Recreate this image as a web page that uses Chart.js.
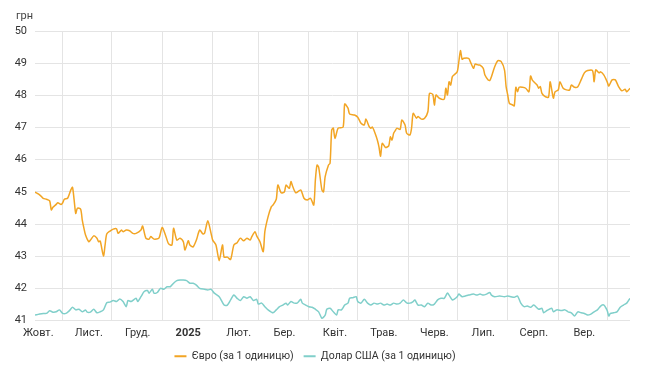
<!DOCTYPE html>
<html>
<head>
<meta charset="utf-8">
<script src="https://cdn.jsdelivr.net/npm/chart.js@4.4.1/dist/chart.umd.min.js"></script>
<style>
html,body{margin:0;padding:0;background:#fff;}
#wrap{width:650px;height:383px;}
</style>
</head>
<body>
<div id="wrap"><canvas id="c" width="650" height="383"></canvas></div>
<script>
// Start of the time range (day 0)
const startDate = '2024-10-15';
// Months whose first day gets a vertical gridline
const gridMonths = ['2024-11','2024-12','2025-01','2025-02','2025-03','2025-04','2025-05','2025-06','2025-07','2025-08','2025-09','2025-10'];
// Months labelled on the x axis (label placed mid-month)
const labelMonths = ['2024-10','2024-11','2024-12','2025-01','2025-02','2025-03','2025-04','2025-05','2025-06','2025-07','2025-08','2025-09'];
const monthLabels = ['Жовт.','Лист.','Груд.','2025','Лют.','Бер.','Квіт.','Трав.','Черв.','Лип.','Серп.','Вер.'];
const yMin = 41, yMax = 50;
const unitLabel = 'грн';
const seriesNames = ['Євро (за 1 одиницю)', 'Долар США (за 1 одиницю)'];

// [day since startDate, UAH]
const euroSeries = [
[0,44.99],[3,44.90],[5,44.80],[7,44.77],[9,44.72],[10,44.44],[11,44.52],[13,44.61],[14,44.66],[16,44.61],
[17,44.66],[18,44.77],[20,44.80],[22,45.06],[23,45.14],[24,44.75],[25,44.33],[26,44.49],[28,44.46],[29,44.12],
[30,43.87],[31,43.66],[33,43.45],[34,43.50],[36,43.63],[38,43.56],[39,43.45],[40,43.47],[42,43.01],[43,43.35],
[44,43.69],[46,43.78],[48,43.84],[50,43.85],[51,43.71],[53,43.81],[54,43.76],[56,43.81],[58,43.79],[60,43.71],
[62,43.71],[65,43.81],[66,43.94],[68,43.56],[70,43.53],[71,43.61],[73,43.53],[76,43.56],[78,43.89],[80,43.66],
[82,43.38],[84,43.35],[85,43.87],[87,43.50],[89,43.56],[91,43.45],[92,43.19],[94,43.48],[95,43.35],[97,43.29],
[99,43.50],[101,43.81],[103,43.69],[104,43.71],[106,44.10],[108,43.71],[109,43.50],[111,43.35],[113,42.86],[115,43.35],
[116,42.97],[118,42.97],[120,42.90],[122,43.35],[124,43.42],[126,43.56],[128,43.48],[130,43.56],[132,43.50],[133,43.61],
[135,43.76],[136,43.63],[138,43.45],[140,43.14],[141,43.76],[143,44.23],[145,44.54],[146,44.59],[148,44.77],[149,45.21],
[151,44.97],[153,45.00],[154,45.21],[156,45.11],[157,45.32],[158,45.18],[160,44.97],[163,45.06],[165,44.80],[167,44.75],
[169,44.80],[171,44.59],[172,45.37],[173,45.83],[174,45.77],[176,45.06],[177,45.00],[178,45.47],[180,45.83],[181,45.89],
[182,46.92],[183,46.98],[184,46.66],[186,46.98],[189,47.01],[190,47.73],[192,47.60],[193,47.42],[196,47.39],[198,47.32],
[200,47.13],[202,47.08],[203,47.26],[205,47.03],[206,46.98],[207,47.01],[209,46.77],[210,46.61],[211,46.40],[212,46.11],
[213,46.51],[215,46.38],[217,46.43],[218,46.71],[219,46.61],[220,46.82],[221,46.90],[222,46.98],[224,46.94],[225,47.23],
[227,47.08],[228,46.82],[230,46.77],[231,46.98],[232,47.44],[234,47.29],[235,47.34],[237,47.26],[239,47.29],[241,47.49],
[242,48.06],[244,48.03],[245,47.70],[246,48.01],[248,47.91],[251,47.88],[252,48.22],[253,48.01],[254,48.42],[255,48.32],
[256,48.58],[257,48.63],[259,48.73],[260,49.05],[261,49.39],[262,49.12],[263,49.15],[266,49.15],[267,49.05],[269,48.84],
[270,48.97],[272,48.94],[273,48.94],[275,48.84],[276,48.63],[278,48.48],[279,48.46],[280,48.58],[282,48.89],[284,49.08],
[286,49.05],[288,48.79],[289,48.27],[290,48.01],[291,47.75],[293,47.70],[294,47.67],[295,48.25],[296,48.11],[297,48.25],
[299,48.25],[301,48.22],[303,48.11],[304,48.60],[305,48.48],[306,48.42],[308,48.32],[309,48.22],[310,48.27],[311,48.06],
[313,47.96],[315,47.94],[316,48.42],[317,48.17],[318,47.91],[319,48.11],[321,48.17],[322,48.42],[324,48.22],[326,48.17],
[328,48.17],[329,48.32],[331,48.25],[333,48.27],[335,48.48],[337,48.70],[339,48.77],[342,48.77],[343,48.42],[344,48.79],
[346,48.70],[347,48.73],[349,48.63],[351,48.42],[352,48.29],[354,48.48],[356,48.48],[358,48.27],[360,48.14],[362,48.19],
[363,48.11],[365,48.22]
];

const usdSeries = [
[0,41.17],[2,41.19],[5,41.22],[7,41.22],[9,41.30],[11,41.26],[13,41.27],[15,41.33],[17,41.22],[19,41.22],
[21,41.30],[23,41.41],[25,41.33],[27,41.35],[29,41.27],[31,41.33],[32,41.26],[34,41.26],[36,41.35],[38,41.24],
[40,41.27],[42,41.33],[44,41.55],[46,41.57],[48,41.62],[50,41.59],[52,41.67],[54,41.59],[56,41.43],[57,41.62],
[59,41.59],[62,41.69],[63,41.59],[65,41.74],[67,41.90],[69,41.93],[70,41.85],[72,41.97],[73,41.85],[75,41.87],
[77,42.00],[79,41.97],[81,42.05],[83,42.05],[85,42.16],[87,42.24],[89,42.26],[91,42.26],[93,42.24],[95,42.16],
[97,42.16],[99,42.10],[101,42.00],[104,41.97],[106,41.95],[108,41.97],[110,41.85],[113,41.74],[116,41.48],[118,41.48],
[120,41.64],[122,41.79],[124,41.69],[126,41.62],[128,41.74],[130,41.69],[132,41.74],[134,41.62],[136,41.66],[137,41.51],
[139,41.54],[141,41.43],[143,41.33],[146,41.24],[148,41.33],[150,41.43],[152,41.48],[154,41.54],[155,41.48],[157,41.59],
[159,41.54],[161,41.55],[163,41.66],[164,41.54],[166,41.48],[168,41.43],[170,41.41],[172,41.35],[174,41.27],[176,41.07],
[178,41.17],[179,41.35],[181,41.38],[183,41.27],[185,41.17],[186,41.33],[188,41.33],[190,41.48],[192,41.54],[193,41.69],
[195,41.71],[197,41.74],[198,41.59],[200,41.54],[202,41.66],[204,41.54],[206,41.48],[208,41.54],[210,41.51],[212,41.54],
[214,41.48],[216,41.51],[218,41.48],[220,41.54],[222,41.51],[224,41.54],[226,41.64],[228,41.55],[230,41.54],[232,41.59],
[233,41.64],[235,41.48],[237,41.48],[239,41.43],[241,41.54],[243,41.48],[245,41.51],[247,41.64],[249,41.69],[251,41.69],
[253,41.85],[254,41.79],[256,41.64],[257,41.66],[259,41.74],[260,41.82],[262,41.74],[264,41.76],[266,41.79],[269,41.82],
[271,41.79],[273,41.82],[275,41.79],[277,41.82],[279,41.87],[280,41.79],[282,41.74],[285,41.76],[288,41.74],[290,41.76],
[292,41.74],[294,41.72],[296,41.76],[298,41.54],[300,41.43],[302,41.45],[304,41.41],[306,41.48],[309,41.35],[311,41.38],
[312,41.24],[314,41.31],[317,41.38],[318,41.27],[320,41.33],[323,41.31],[325,41.33],[327,41.27],[329,41.24],[331,41.14],
[333,41.27],[335,41.24],[337,41.22],[339,41.17],[341,41.20],[343,41.27],[345,41.33],[347,41.45],[349,41.48],[351,41.31],
[352,41.14],[353,41.22],[355,41.24],[357,41.27],[359,41.41],[361,41.48],[363,41.54],[365,41.69]
];

const DAY = 86400000;
function parseYMD(s){ const p = s.split('-').map(Number); return Date.UTC(p[0], p[1]-1, p[2] || 1); }
const t0 = parseYMD(startDate);
const dayOf = (s, d) => (parseYMD(s + '-' + String(d).padStart(2,'0')) - t0) / DAY;
const gridTicks = gridMonths.map(m => dayOf(m, 1));
const labelTicks = labelMonths.map(m => dayOf(m, 17));
const xMin = 0;
const xMax = euroSeries[euroSeries.length - 1][0];

const toPts = arr => arr.map(p => ({x: p[0], y: p[1]}));

const unitPlugin = {
  id: 'unitLabel',
  afterDraw(chart) {
    const ctx = chart.ctx;
    ctx.save();
    ctx.font = '11px Roboto, "Open Sans", sans-serif';
    ctx.fillStyle = '#444';
    ctx.textAlign = 'left';
    ctx.textBaseline = 'middle';
    ctx.fillText(unitLabel, 16, 16);
    ctx.restore();
  }
};

const gridColor = '#e4e4e4';
const font = 'Roboto, "Open Sans", sans-serif';

new Chart(document.getElementById('c'), {
  type: 'line',
  data: {
    datasets: [
      { label: seriesNames[0], data: toPts(euroSeries), borderColor: '#f2a524', backgroundColor: '#f2a524',
        borderWidth: 1.5, pointRadius: 0, tension: 0.25, xAxisID: 'x', yAxisID: 'y' },
      { label: seriesNames[1], data: toPts(usdSeries), borderColor: '#80cfca', backgroundColor: '#80cfca',
        borderWidth: 1.5, pointRadius: 0, tension: 0.25, xAxisID: 'x', yAxisID: 'y' }
    ]
  },
  options: {
    responsive: false,
    animation: false,
    devicePixelRatio: 1,
    layout: { padding: { left: 0, right: 20, top: 31, bottom: 11.5 } },
    plugins: {
      tooltip: { enabled: false },
      legend: {
        position: 'bottom',
        labels: {
          usePointStyle: true,
          pointStyle: 'line',
          pointStyleWidth: 12,
          boxHeight: 10,
          padding: 10,
          color: '#333',
          font: { family: font, size: 10.5 },
          generateLabels(chart) {
            return chart.data.datasets.map((ds, i) => ({
              text: ds.label, fillStyle: ds.borderColor, strokeStyle: ds.borderColor,
              lineWidth: 2, pointStyle: 'line', datasetIndex: i, hidden: false, fontColor: '#333'
            }));
          }
        }
      }
    },
    scales: {
      x: {
        type: 'linear', position: 'bottom', min: xMin, max: xMax,
        border: { display: false },
        grid: { color: gridColor, drawTicks: false, lineWidth: 1 },
        ticks: { display: false },
        afterBuildTicks(scale) { scale.ticks = gridTicks.map(v => ({ value: v })); }
      },
      x2: {
        type: 'linear', position: 'bottom', min: xMin, max: xMax,
        border: { display: false },
        grid: { display: false, drawTicks: false },
        ticks: {
          autoSkip: false, maxRotation: 0, padding: 6, color: '#333',
          font: (c) => ({ family: font, size: 11, weight: (c.tick && c.tick.label === '2025') ? 'bold' : 'normal' }),
          callback: (v, i) => monthLabels[i]
        },
        afterBuildTicks(scale) { scale.ticks = labelTicks.map(v => ({ value: v })); },
        afterFit(scale) { scale.height = 20.5; }
      },
      y: {
        type: 'linear', min: yMin, max: yMax,
        border: { display: false },
        grid: { color: gridColor, drawTicks: false },
        ticks: { stepSize: 1, padding: 8, color: '#333', font: { family: font, size: 11 } },
        afterFit(scale) { scale.width = 35; }
      }
    }
  },
  plugins: [unitPlugin]
});
</script>
</body>
</html>
